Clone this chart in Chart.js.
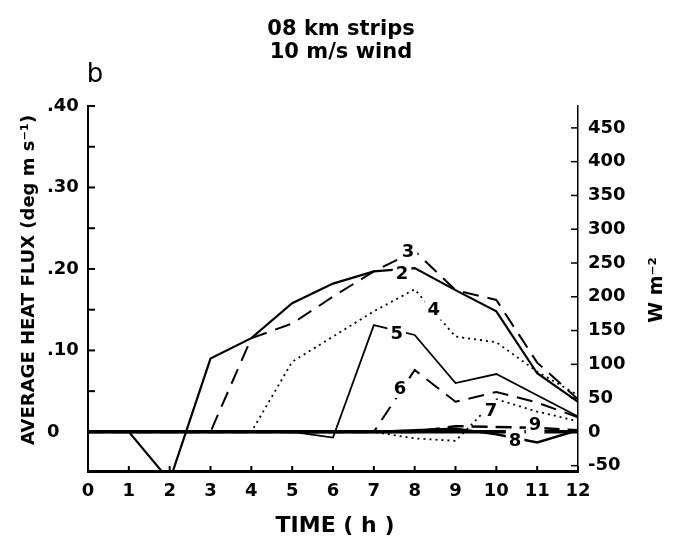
<!DOCTYPE html>
<html><head><meta charset="utf-8">
<script src="https://cdn.jsdelivr.net/npm/chart.js@4/dist/chart.umd.min.js"></script>
<style>html,body{margin:0;padding:0;background:#fff}</style>
</head><body>
<canvas id="c" width="674" height="549"></canvas>
<script>
// ---- data ----
const hours = [0,1,2,3,4,5,6,7,8,9,10,11,12];
const strip2 = [0, 0, -0.06, 0.090, 0.115, 0.158, 0.182, 0.197, 0.201, 0.174, 0.148, 0.072, 0.037];
const strip3 = [0, 0, 0, 0, 0.115, 0.133, 0.166, 0.197, 0.222, 0.174, 0.162, 0.085, 0.040];
const strip4 = [0, 0, 0, 0, 0, 0.086, 0.117, 0.148, 0.175, 0.117, 0.110, 0.074, 0.045];
const strip5 = [0, 0, 0, 0, 0, 0, -0.007, 0.131, 0.119, 0.060, 0.071, 0.045, 0.019];
const strip6 = [0, 0, 0, 0, 0, 0, 0, 0, 0.076, 0.037, 0.049, 0.036, 0.018];
const strip7 = [0, 0, 0, 0, 0, 0, 0, 0, -0.008, -0.011, 0.040, 0.025, 0.013];
const strip8 = [0, 0, 0, 0, 0, 0, 0, 0, 0.002, 0.004, -0.003, -0.013, 0.002];
const strip9 = [0, 0, 0, 0, 0, 0, 0, 0, 0, 0.007, 0.006, 0.005, 0.002];

const xTickValues = [0,1,2,3,4,5,6,7,8,9,10,11,12];
const leftTickValues = [0, 0.05, 0.10, 0.15, 0.20, 0.25, 0.30, 0.35, 0.40];
const leftTickLabels = ['0', '', '.10', '', '.20', '', '.30', '', '.40'];
const rightTickValues = [-50, 0, 50, 100, 150, 200, 250, 300, 350, 400, 450];

const curveNames = ['2','3','4','5','6','7','8','9'];
const curveLabelHours = [7.69, 7.84, 8.47, 7.56, 7.64, 9.87, 10.46, 10.95];
const curveLabelValues = [0.195, 0.222, 0.150, 0.121, 0.054, 0.027, -0.010, 0.009];

const RHO_CP = 1206;          // W m-2 per (deg m s-1)
const fluxMin = -0.048, fluxMax = 0.40;

const titleLines = ['08 km strips', '10 m/s wind'];
const panelLetter = 'b';
const xTitle = 'TIME ( h )';
const leftTitle = 'AVERAGE HEAT FLUX (deg m s\u207B\u00B9)';
const rightTitle = 'W m\u207B\u00B2';

// ---- chart ----
const FONT = 'DejaVu Sans';
function pts(vals){ return hours.map((h,i)=>({x:h, y:vals[i]})); }
function ds(label, vals, dash, width){
  return {label, data: pts(vals), borderColor:'#000', backgroundColor:'#000',
    borderWidth: width, borderDash: dash, pointRadius:0, tension:0, fill:false, yAxisID:'y'};
}
const datasets = [
  ds('2', strip2, [], 2.2),
  ds('3', strip3, [16,9], 2),
  ds('4', strip4, [2,4], 1.8),
  ds('5', strip5, [], 1.8),
  ds('6', strip6, [16,9], 2),
  ds('7', strip7, [2,4], 1.8),
  ds('8', strip8, [], 2.5),
  ds('9', strip9, [16,8], 2.5),
];

const decor = {
  id:'decor',
  afterDraw(chart){
    const ctx = chart.ctx, ca = chart.chartArea;
    const xs = chart.scales.x, ys = chart.scales.y, y2 = chart.scales.y2;
    ctx.save();
    ctx.strokeStyle = '#000'; ctx.fillStyle = '#000';
    // inward tick marks
    ctx.lineWidth = 2;
    xTickValues.forEach(v=>{ const p = xs.getPixelForValue(v);
      ctx.beginPath(); ctx.moveTo(p, ca.bottom); ctx.lineTo(p, ca.bottom-5); ctx.stroke(); });
    leftTickValues.forEach(v=>{ const p = ys.getPixelForValue(v);
      ctx.beginPath(); ctx.moveTo(ca.left, p); ctx.lineTo(ca.left+7, p); ctx.stroke(); });
    ctx.lineWidth = 1.5;
    rightTickValues.forEach(v=>{ const p = y2.getPixelForValue(v);
      ctx.beginPath(); ctx.moveTo(ca.right, p); ctx.lineTo(ca.right-7, p); ctx.stroke(); });
    // curve labels with white knock-out
    ctx.font = 'bold 18px "'+FONT+'"';
    ctx.textAlign = 'center'; ctx.textBaseline = 'middle';
    curveNames.forEach((t,i)=>{
      const px = xs.getPixelForValue(curveLabelHours[i]);
      const py = ys.getPixelForValue(curveLabelValues[i]);
      const w = ctx.measureText(t).width + 6;
      ctx.fillStyle = '#fff'; ctx.fillRect(px-w/2, py-10, w, 20);
      ctx.fillStyle = '#000'; ctx.fillText(t, px, py+1);
    });
    // titles
    ctx.font = 'bold 21px "'+FONT+'"';
    ctx.fillText(titleLines[0], 341, 30);
    ctx.fillText(titleLines[1], 341, 53);
    ctx.font = '26px "'+FONT+'"';
    ctx.fillText(panelLetter, 95, 75);
    ctx.font = 'bold 22px "'+FONT+'"';
    ctx.fillText(xTitle, 335, 526);
    // rotated axis titles
    ctx.save();
    ctx.translate(29, 280); ctx.rotate(-Math.PI/2);
    ctx.font = 'bold 18px "'+FONT+'"';
    ctx.fillText(leftTitle, 0, 0);
    ctx.restore();
    ctx.save();
    ctx.translate(657, 290); ctx.rotate(-Math.PI/2);
    ctx.font = 'bold 19px "'+FONT+'"';
    ctx.fillText(rightTitle, 0, 0);
    ctx.restore();
    ctx.restore();
  }
};

new Chart(document.getElementById('c'), {
  type:'line',
  data:{ datasets },
  options:{
    responsive:false, animation:false, devicePixelRatio:1,
    layout:{ padding:{ top:106, left:47, right:0, bottom:0 } },
    plugins:{ legend:{display:false}, tooltip:{enabled:false}, title:{display:false} },
    scales:{
      x:{ type:'linear', position:'bottom', min:0, max:12,
        afterBuildTicks: s=>{ s.ticks = xTickValues.map(v=>({value:v})); },
        afterFit: s=>{ s.height = 78; },
        grid:{ drawOnChartArea:false, drawTicks:false, color:'rgba(0,0,0,0)' },
        border:{ display:true, color:'#000', width:3 },
        ticks:{ color:'#000', padding:10, maxRotation:0, autoSkip:false,
          font:{ family:FONT, size:18, weight:'bold' } } },
      y:{ type:'linear', position:'left', min:fluxMin, max:fluxMax,
        afterBuildTicks: s=>{ s.ticks = leftTickValues.map(v=>({value:v})); },
        afterFit: s=>{ s.width = 41; },
        grid:{ drawTicks:false,
          color: c => (c.tick && c.tick.value === 0) ? '#000' : 'rgba(0,0,0,0)',
          lineWidth: c => (c.tick && c.tick.value === 0) ? 3.5 : 1 },
        border:{ display:true, color:'#000', width:2 },
        ticks:{ color:'#000', padding:0, crossAlign:'far', autoSkip:false,
          callback:(v,i)=>leftTickLabels[i],
          font:{ family:FONT, size:18, weight:'bold' } } },
      y2:{ type:'linear', position:'right', min:fluxMin*RHO_CP, max:fluxMax*RHO_CP,
        afterBuildTicks: s=>{ s.ticks = rightTickValues.map(v=>({value:v})); },
        afterFit: s=>{ s.width = 96; },
        grid:{ drawOnChartArea:false, drawTicks:false, color:'rgba(0,0,0,0)' },
        border:{ display:true, color:'#000', width:1.5 },
        ticks:{ color:'#000', padding:10, autoSkip:false,
          callback:(v)=>String(v),
          font:{ family:FONT, size:18, weight:'bold' } } }
    }
  },
  plugins:[decor]
});
</script>
</body></html>
